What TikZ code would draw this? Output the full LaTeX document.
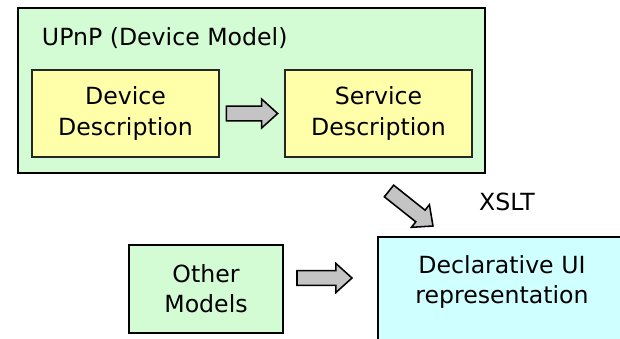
\documentclass[tikz,border=0pt]{standalone}
\usepackage{fontspec}
\setmainfont{DejaVu Sans}
\usetikzlibrary{calc,positioning}

\definecolor{modelgreen}{RGB}{212,252,212}
\definecolor{descyellow}{RGB}{255,255,170}
\definecolor{uicyan}{RGB}{208,255,255}
\definecolor{arrowgray}{RGB}{196,196,196}

\tikzset{
  every node/.style={font=\fontsize{16.8}{21.5}\selectfont},
  modelbox/.style={draw=black, line width=1.4pt, fill=modelgreen},
  descbox/.style={draw=black!85, line width=1.4pt, fill=descyellow, align=center,
                  minimum width=4.675cm, minimum height=2.175cm},
  uibox/.style={draw=black, line width=1.4pt, fill=uicyan},
  blockarr/.style={draw=black, line width=1.1pt, fill=arrowgray, line join=miter}
}

% fat gray arrow from #1 to #2
\newcommand{\blockarrow}[2]{%
  \draw[blockarr] let \p1=($(#2)-(#1)$), \n1={atan2(\y1,\x1)}, \n2={veclen(\x1,\y1)} in
    [shift={(#1)}, rotate=\n1]
    (0pt,-5.3pt) -- ({\n2-11.4pt},-5.3pt) -- ({\n2-11.4pt},-10.3pt) -- (\n2,0pt)
    -- ({\n2-11.4pt},10.3pt) -- ({\n2-11.4pt},5.3pt) -- (0pt,5.3pt) -- cycle;
}

\begin{document}
\begin{tikzpicture}[x=0.025cm, y=-0.025cm]
  \clip (0,0) rectangle (620,338);

  % UPnP device model
  \node (upnp) [modelbox, minimum width=11.675cm, minimum height=4.125cm] at (251.5,90.5) {};
  \node (upnptitle) [anchor=west] at (37,38) {UPnP (Device Model)};
  \node (devdesc) [descbox] at (125.5,113.5) {Device\\Description};
  \node (servdesc) [descbox] at (378.5,113.5) {Service\\Description};

  % other models
  \node (other) [modelbox, align=center, minimum width=3.85cm, minimum height=2.2cm] at (206,289) {Other\\Models};

  % target UI
  \node (declui) [uibox, anchor=north west, minimum width=6.5cm, minimum height=3cm] at (377,236) {};
  \node (decltext) [align=center] at (502,282) {Declarative UI\\representation};
  \node (xslt) at (507,202) {XSLT};

  % arrows
  \coordinate (a1s) at ([xshift=4.5pt]devdesc.east);
  \coordinate (a1e) at ([xshift=-4.5pt]servdesc.west);
  \coordinate (a2s) at (297,278);
  \coordinate (a2e) at (352,278);
  \coordinate (a3s) at (389,191);
  \coordinate (a3e) at (433,226);
  \blockarrow{a1s}{a1e}
  \blockarrow{a2s}{a2e}
  \blockarrow{a3s}{a3e}
\end{tikzpicture}
\end{document}
